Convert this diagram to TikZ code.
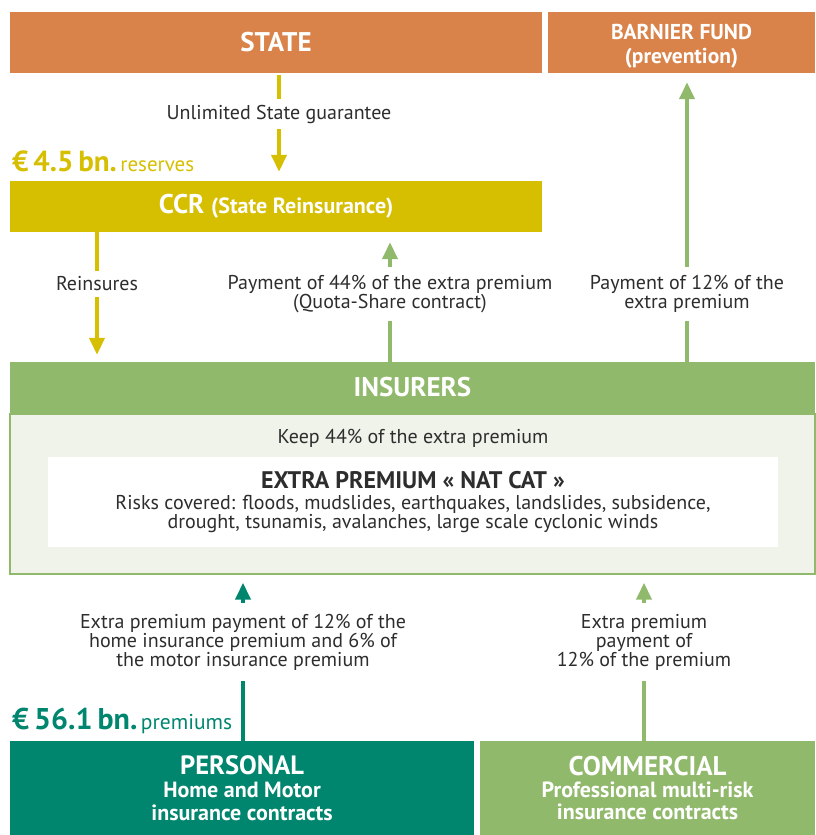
\documentclass[tikz,border=0pt]{standalone}
\usepackage{fontspec}
\setmainfont{PT Sans}
\usetikzlibrary{arrows.meta,positioning}
\definecolor{stateor}{RGB}{217,131,74}
\definecolor{ccryel}{RGB}{214,190,0}
\definecolor{insgreen}{RGB}{145,185,107}
\definecolor{panelbg}{RGB}{240,243,234}
\definecolor{persteal}{RGB}{0,134,110}
\definecolor{txtgray}{RGB}{45,45,45}
\tikzset{
  hdr/.style={rectangle, inner sep=0pt, text=white, align=center,
              font=\fontsize{27}{29}\selectfont\bfseries},
  sub/.style={font=\fontsize{21.5}{24}\selectfont\bfseries},
  lbl/.style={rectangle, inner xsep=2pt, inner ysep=6pt, align=center, text=txtgray,
              font=\fontsize{20}{19}\selectfont},
  flow/.style={line width=4pt},
  flowar/.style={flow, -{Triangle[width=15pt,length=17pt]}},
  amt/.style={anchor=base west, inner sep=0pt},
}
\begin{document}
\begin{tikzpicture}[x=1pt,y=-1pt]
\useasboundingbox (0,0) rectangle (815,835);

% ================= top row =================
\node[hdr, fill=stateor, minimum width=532, minimum height=61] (state) at (276,42.5) {STATE};
\node[hdr, fill=stateor, minimum width=267, minimum height=61, sub] (barnier) at (681.5,42.5)
  {\rule{0pt}{23pt}BARNIER FUND\\(prevention)};

% ================= CCR =================
\node[amt, text=ccryel] (reserves) at (12,171)
  {{\fontsize{29}{31}\selectfont\bfseries €\,4.5\,bn.} {\fontsize{21}{23}\selectfont reserves}};
\node[hdr, fill=ccryel, minimum width=532, minimum height=51] (ccr) at (276,206.5)
  {CCR {\fontsize{22}{24}\selectfont (State Reinsurance)}};

% ================= insurers =================
\node[hdr, fill=insgreen, minimum width=805, minimum height=51] (insurers) at (412.5,387.5) {INSURERS};
\node[rectangle, fill=panelbg, draw=insgreen, line width=1.5pt, minimum width=805, minimum height=160,
      anchor=north] (panel) at (insurers.south) {};
\node[lbl, inner ysep=0pt] (keep) at (413,438) {Keep 44\% of the extra premium};
\node[rectangle, fill=white, minimum width=730, minimum height=90, align=center, text=txtgray,
      font=\fontsize{20}{19}\selectfont] (natcat) at (413,502)
  {{\fontsize{24}{25}\selectfont\bfseries EXTRA PREMIUM « NAT CAT »}\\[2pt]
   Risks covered: floods, mudslides, earthquakes, landslides, subsidence,\\
   drought, tsunamis, avalanches, large scale cyclonic winds};

% ================= bottom row =================
\node[amt, text=persteal] (premiums) at (12,729)
  {{\fontsize{30}{32}\selectfont\bfseries €\,56.1\,bn.} {\fontsize{21.5}{23}\selectfont premiums}};
\node[hdr, fill=persteal, minimum width=464, minimum height=94, font=\fontsize{22}{23}\selectfont\bfseries]
  (personal) at (242,788)
  {\fontsize{26.5}{28}\selectfont PERSONAL\\Home and Motor\\insurance contracts};
\node[hdr, fill=insgreen, minimum width=335, minimum height=94, font=\fontsize{22}{22}\selectfont\bfseries]
  (commercial) at (647.5,788)
  {\fontsize{27}{28}\selectfont COMMERCIAL\\Professional multi-risk\\insurance contracts};

% ================= flow labels =================
\node[lbl] (guar) at (279,114) {Unlimited State guarantee};
\node[lbl] (reins) at (97,284) {Reinsures};
\node[lbl, inner ysep=8pt] (quota) at (390,294) {Payment of 44\% of the extra premium\\(Quota-Share contract)};
\node[lbl, inner ysep=8pt] (pay12) at (687,294) {Payment of 12\% of the\\extra premium};
\node[lbl, inner ysep=11pt] (perspay) at (243,642) {Extra premium payment of 12\% of the\\home insurance premium and 6\% of\\the motor insurance premium};
\node[lbl, inner ysep=11pt] (commpay) at (644,642) {Extra premium\\payment of\\12\% of the premium};

% ================= flows =================
\draw[flow, ccryel, shorten <=2pt] (state.south -| guar) -- (guar.north);
\draw[flowar, ccryel, shorten >=9pt] (guar.south) -- (guar.south |- ccr.north);

\draw[flow, ccryel] (ccr.south -| reins) -- (reins.north);
\draw[flowar, ccryel, shorten >=7pt] (reins.south) -- (reins.south |- insurers.north);

\draw[flow, insgreen] (insurers.north -| quota) -- (quota.south);
\draw[flowar, insgreen, shorten >=10pt] (quota.north) -- (quota.north |- ccr.south);

\draw[flow, insgreen] (insurers.north -| pay12) -- (pay12.south);
\draw[flowar, insgreen, shorten >=9pt] (pay12.north) -- (pay12.north |- barnier.south);

\draw[flow, persteal] (personal.north -| perspay) -- (perspay.south);
\draw[flowar, persteal, shorten >=8pt] (perspay.north) -- (perspay.north |- panel.south);

\draw[flow, insgreen] (commercial.north -| commpay) -- (commpay.south);
\draw[flowar, insgreen, shorten >=8pt] (commpay.north) -- (commpay.north |- panel.south);

\end{tikzpicture}
\end{document}
